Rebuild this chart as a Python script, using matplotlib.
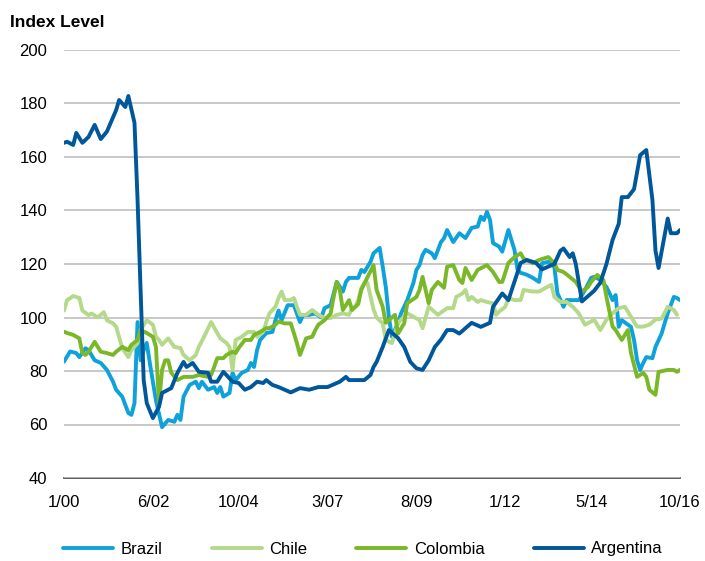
import matplotlib
matplotlib.use("Agg")
import matplotlib.pyplot as plt

plt.rcParams['font.family'] = ['Liberation Sans', 'DejaVu Sans']

# month offsets from Jan 2000
tick_months = [0, 29, 57, 86, 115, 144, 172, 201]
tick_labels = ["1/00", "6/02", "10/04", "3/07", "8/09", "1/12", "5/14", "10/16"]

brazil_m = [0, 2, 4, 5, 7, 8, 10, 12, 14, 16, 17, 19, 21, 22, 23, 24, 25, 26, 27, 28, 30, 32, 34, 36, 37, 38, 39, 41, 43, 44, 45, 47, 49, 50, 51, 52, 54, 55, 56, 58, 60, 61, 62, 63, 64, 66, 68, 69, 70, 71, 73, 75, 76, 77, 78, 80, 82, 84, 85, 87, 89, 91, 92, 93, 96, 97, 98, 100, 101, 103, 104, 105, 106, 107, 109, 110, 112, 114, 115, 116, 117, 118, 120, 121, 123, 124, 125, 127, 129, 131, 133, 135, 136, 137, 138, 139, 140, 142, 143, 145, 147, 148, 149, 151, 153, 155, 156, 158, 160, 161, 163, 164, 166, 168, 170, 172, 173, 175, 177, 178, 179, 180, 181, 182, 185, 186, 187, 188, 189, 190, 192, 193, 195, 196, 197, 199, 200, 201]
brazil_v = [83.5, 87.3, 86.7, 85.2, 88.5, 87.8, 84, 83, 80.4, 76, 73, 70.4, 64.3, 63.6, 68, 98.3, 84, 87.8, 90.5, 83, 69, 59, 61.7, 61, 63.6, 61.7, 70.4, 74.8, 76, 73.6, 76, 73, 74, 71.8, 74, 70.4, 71.8, 79.3, 76.6, 79.3, 80.4, 83, 81.5, 87.8, 91.6, 94.2, 94.6, 99, 102.6, 99, 104.6, 104.6, 101.5, 98.3, 100.9, 101, 101.5, 100, 103.5, 104.6, 113.3, 109.7, 113.3, 114.8, 114.8, 117.8, 117, 120.8, 124, 126, 119, 111.4, 100.3, 92.8, 98, 101.6, 106.5, 112.9, 117.8, 119.6, 123.4, 125.3, 124, 122.2, 128.2, 129.6, 132.7, 128.2, 131.5, 129.7, 133.5, 134, 137.7, 136.4, 139.5, 136.5, 127.8, 126.5, 124.6, 132.7, 125.2, 117.8, 116.7, 116, 114.8, 113.3, 120.3, 120.8, 119, 109.1, 104, 106.5, 106.5, 106.5, 110.3, 114.8, 115.2, 114.1, 111.4, 109.1, 106.5, 108.4, 96.5, 99, 96.5, 91.6, 84, 80.4, 83, 85.2, 84.8, 89, 94, 97.9, 101.6, 107.7, 107.3, 106.5]

chile_m = [0, 1, 3, 5, 6, 8, 9, 11, 13, 14, 16, 17, 19, 21, 22, 24, 25, 27, 29, 30, 31, 32, 34, 36, 38, 39, 41, 43, 44, 46, 48, 50, 51, 53, 54, 55, 56, 58, 60, 62, 63, 65, 66, 67, 69, 70, 71, 72, 74, 75, 76, 77, 79, 81, 83, 85, 87, 89, 91, 93, 94, 95, 96, 97, 98, 99, 101, 102, 104, 105, 107, 109, 112, 114, 116, 117, 119, 122, 125, 127, 128, 130, 131, 132, 133, 135, 136, 138, 140, 141, 142, 144, 145, 147, 149, 150, 153, 155, 157, 159, 160, 162, 164, 166, 168, 170, 172, 173, 175, 177, 179, 181, 183, 185, 187, 189, 191, 193, 195, 197, 199, 200]
chile_v = [102.6, 106.5, 108, 107.3, 102.6, 100.9, 101.5, 100, 102, 99, 97.8, 96.6, 88.6, 85.2, 87.8, 90.4, 95.3, 99, 97.3, 92.8, 91.6, 89.8, 92.2, 89, 88.6, 86, 84, 86, 89, 93.5, 98.3, 94.2, 92.2, 90.5, 89, 80.4, 91.6, 92.8, 94.6, 94.6, 92.8, 94.6, 98.3, 101.5, 104, 107.3, 109.7, 106.5, 106.5, 107.3, 104, 101, 101, 102.8, 101, 99.8, 99.8, 101, 101.5, 101, 103.5, 104, 106.5, 111, 113, 113, 103, 100, 97.8, 91.6, 90.4, 98, 101.6, 100.3, 99, 96, 104, 101, 103.5, 103.5, 107.7, 109, 110.3, 106.5, 107.7, 105.8, 106.5, 105.8, 105.3, 101, 102.2, 104, 107.3, 106.5, 106.5, 110.3, 109.7, 109.7, 111, 112.2, 107.7, 105.8, 105.8, 104, 101.5, 97.3, 98.5, 99.2, 95.3, 99.2, 101.6, 103.5, 104, 100.3, 96.6, 96.6, 97.3, 99.2, 99.6, 104, 102.8, 101]

colombia_m = [0, 1, 3, 5, 6, 7, 8, 10, 12, 14, 16, 17, 19, 21, 22, 24, 25, 27, 29, 30, 31, 32, 33, 34, 35, 37, 39, 42, 44, 47, 48, 49, 50, 52, 53, 55, 56, 57, 59, 61, 62, 64, 66, 67, 69, 70, 72, 74, 75, 76, 77, 78, 79, 81, 82, 83, 85, 87, 88, 89, 90, 91, 93, 94, 96, 97, 99, 101, 102, 104, 105, 106, 108, 109, 111, 112, 115, 116, 117, 118, 119, 120, 122, 124, 125, 127, 129, 130, 131, 133, 135, 138, 140, 142, 143, 145, 147, 149, 150, 153, 155, 158, 160, 161, 163, 165, 167, 169, 171, 172, 174, 176, 177, 179, 180, 182, 184, 185, 187, 189, 190, 191, 193, 194, 197, 199, 200, 201]
colombia_v = [94.7, 94.2, 93.5, 92.2, 86.7, 86, 87.2, 90.9, 87.2, 86.7, 86, 87.2, 89, 87.8, 89.8, 91.6, 95.3, 94.2, 92.8, 89, 68, 80.4, 84, 84, 79.3, 76.6, 77.8, 77.8, 78.5, 77.8, 78.5, 81.5, 84.8, 84.8, 86, 87.2, 86.7, 88.6, 91.6, 91.6, 93.5, 94.6, 96, 96, 97.3, 98.5, 97.8, 97.8, 94.2, 90.4, 86, 89, 92.2, 92.8, 95.3, 97.3, 99, 101.5, 107.7, 113.3, 110.3, 102.8, 106.5, 102.8, 105, 110.3, 115, 119.6, 110.3, 104, 98, 99, 101, 94, 97.8, 105.3, 107.7, 110.3, 115.2, 110.3, 105.3, 110.3, 113.3, 111.1, 119, 119.6, 114, 112.9, 118.5, 114, 117.8, 119.6, 117, 113.3, 113.3, 120.4, 122.6, 124, 122, 120.3, 121.5, 122.6, 120.3, 117.8, 117, 115.2, 113.3, 109.7, 111.4, 113.3, 115.9, 114, 107.7, 96.6, 95.3, 91.6, 95.3, 86.7, 77.8, 79.3, 77.8, 73, 71.1, 79.7, 80.4, 80.4, 79.7, 80.4]

argentina_m = [0, 1, 3, 4, 6, 8, 10, 12, 14, 17, 18, 20, 21, 23, 24, 25, 26, 27, 29, 31, 32, 35, 37, 39, 40, 42, 44, 47, 48, 50, 52, 53, 55, 57, 59, 61, 63, 65, 66, 68, 70, 74, 77, 80, 83, 86, 90, 92, 93, 98, 100, 101, 102, 104, 106, 109, 111, 113, 115, 117, 119, 121, 123, 125, 127, 129, 133, 136, 139, 140, 143, 145, 149, 151, 154, 156, 160, 162, 163, 165, 166, 167, 169, 173, 175, 177, 179, 181, 182, 184, 186, 188, 190, 192, 193, 194, 197, 198, 200, 201]
argentina_v = [165.3, 165.7, 164.5, 169, 165.3, 167.5, 172, 166.7, 169.5, 177.5, 181.3, 178.7, 182.8, 172.8, 144, 110, 76.6, 68, 62.4, 66.6, 71.8, 73.6, 79.3, 83.4, 81.5, 83, 79.7, 79.3, 76, 76, 79.7, 78.5, 76, 75.5, 73, 74, 76, 75.5, 76.6, 74.8, 74, 72, 73.6, 73, 74, 74, 76, 77.8, 76.6, 76.6, 78.5, 81.5, 83.4, 89, 95.3, 92.3, 89, 83.4, 81, 80.4, 84, 89, 91.7, 95.3, 95.3, 94, 98, 96.5, 98, 104, 109, 106.5, 120.4, 121.5, 120.4, 118, 120, 125, 125.8, 122.6, 124, 120, 106, 110, 113, 120, 129, 135, 145, 145, 148, 160.7, 162.6, 144, 125, 118.5, 137, 131.5, 131.5, 132.7]

series = [
    ("Brazil", brazil_m, brazil_v, "#0EA1DA"),
    ("Chile", chile_m, chile_v, "#B4D98B"),
    ("Colombia", colombia_m, colombia_v, "#7AB82A"),
    ("Argentina", argentina_m, argentina_v, "#00579A"),
]

fig = plt.figure(figsize=(7.05, 5.61), dpi=100)
ax = fig.add_axes([64/705, 1-478/561, (680-64)/705, (478-50)/561])

for name, m, v, c in series:
    ax.plot(m, v, color=c, lw=2.8, label=name, solid_joinstyle='round', solid_capstyle='round')

ax.set_xlim(0, 201)
ax.set_ylim(40, 200)
ax.set_yticks(range(40, 201, 20))
ax.set_xticks(tick_months)
ax.set_xticklabels(tick_labels)
ax.grid(axis='y', color='#BFBFBF', lw=1.2)
ax.set_axisbelow(True)
for s in ['top', 'right', 'left']:
    ax.spines[s].set_visible(False)
ax.spines['bottom'].set_color('#404040')
ax.spines['bottom'].set_linewidth(1.2)
ax.spines['bottom'].set_zorder(0.5)
ax.tick_params(axis='both', length=0, labelsize=12, colors='#000000')
ax.tick_params(axis='y', pad=12)
ax.tick_params(axis='x', pad=12)

fig.text(10/705, 1-27/561, "Index Level", fontsize=12.5, fontweight='bold', ha='left', va='baseline')

fig.legend(loc='center', bbox_to_anchor=(0.515, 1-549/561), ncol=4, frameon=False,
           fontsize=12, handlelength=3.0, handletextpad=0.45, columnspacing=2.95)

fig.savefig("out.png", dpi=100)
